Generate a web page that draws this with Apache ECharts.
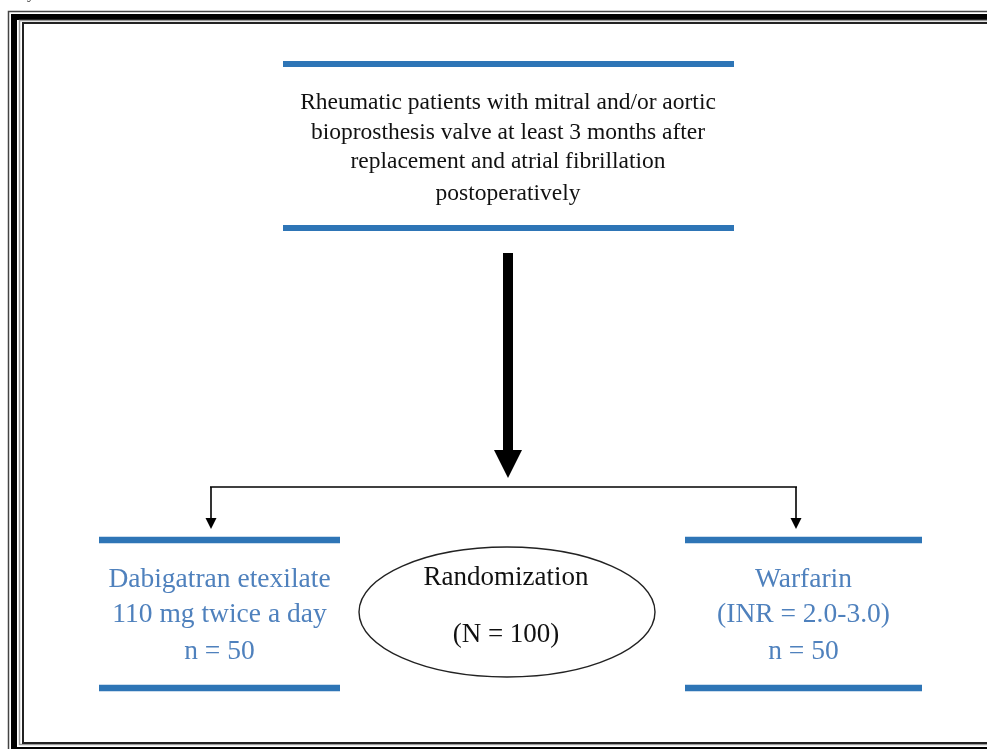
<!DOCTYPE html>
<html>
<head>
<meta charset="utf-8">
<script src="https://cdn.jsdelivr.net/npm/echarts@6/dist/echarts.min.js"></script>
<style>
html,body{margin:0;padding:0;background:#fff;}
#chart{width:987px;height:749px;}
</style>
</head>
<body>
<div id="chart"></div>
<script>
// Flowchart content
const captionFragment = "a day.";
const eligibilityLines = [
  "Rheumatic patients with mitral and/or aortic",
  "bioprosthesis valve at least 3 months after",
  "replacement and atrial fibrillation",
  "postoperatively"
];
const randomizationLines = ["Randomization", "(N = 100)"];
const armLabels = ["Dabigatran etexilate", "Warfarin"];
const armDetails = ["110 mg twice a day", "(INR = 2.0-3.0)"];
const armCounts = [50, 50];

const chart = echarts.init(document.getElementById('chart'), null, {renderer: 'canvas'});

const BLUE_LINE = '#2e75b6';
const BLUE_TEXT = '#4f81bd';
const SERIF = '"Liberation Serif", "DejaVu Serif", serif';

function hbar(x1, x2, y, w, color) {
  return {type: 'line', shape: {x1: x1, y1: y, x2: x2, y2: y}, style: {stroke: color, lineWidth: w}, silent: true};
}
function vline(x, y1, y2, w, color) {
  return {type: 'line', shape: {x1: x, y1: y1, x2: x, y2: y2}, style: {stroke: color, lineWidth: w}, silent: true};
}
function head(x, yTop, yTip, halfW) {
  return {type: 'polygon', shape: {points: [[x - halfW, yTop], [x + halfW, yTop], [x, yTip]]}, style: {fill: '#000'}, silent: true};
}
function txt(str, x, y, size, color) {
  return {type: 'text', x: x, y: y, style: {text: str, align: 'center', verticalAlign: 'middle', fontFamily: SERIF, fontSize: size, fill: color}, silent: true};
}

const els = [];
// frame
els.push({type: 'rect', shape: {x: 8.5, y: 11.5, width: 1100, height: 800}, style: {fill: 'none', stroke: '#444', lineWidth: 1.5}});
els.push({type: 'rect', shape: {x: 14, y: 17, width: 1100, height: 733}, style: {fill: 'none', stroke: '#000', lineWidth: 6}});
els.push({type: 'rect', shape: {x: 19.5, y: 20.5, width: 1100, height: 724}, style: {fill: 'none', stroke: '#9a9a9a', lineWidth: 1.5}});
els.push({type: 'rect', shape: {x: 23, y: 23, width: 1100, height: 720}, style: {fill: 'none', stroke: '#222', lineWidth: 2}});
// caption fragment (cut off at the top edge)
els.push({type: 'text', x: 38, y: -6, style: {text: captionFragment, align: 'right', verticalAlign: 'middle', fontFamily: SERIF, fontSize: 16, fill: '#333'}});

// top box
els.push(hbar(283, 734, 64, 6, BLUE_LINE));
els.push(hbar(283, 734, 228, 6, BLUE_LINE));
const topY = [102.5, 132.5, 162, 193.5];
eligibilityLines.forEach((l, i) => els.push(txt(l, 508, topY[i], 23.5, '#111')));

// big arrow
els.push({type: 'rect', shape: {x: 503, y: 253, width: 10, height: 200}, style: {fill: '#000'}});
els.push(head(508, 450, 478, 14));

// split line
els.push(hbar(210, 797, 487, 1.6, '#000'));
els.push(vline(211, 487, 520, 1.6, '#000'));
els.push(vline(796, 487, 520, 1.6, '#000'));
els.push(head(211, 518, 529, 5.5));
els.push(head(796, 518, 529, 5.5));

// arm boxes
const armX = [[99, 340], [685, 922]];
armX.forEach((r, i) => {
  els.push(hbar(r[0], r[1], 540, 6.5, BLUE_LINE));
  els.push(hbar(r[0], r[1], 688, 6.5, BLUE_LINE));
  const cx = (r[0] + r[1]) / 2;
  els.push(txt(armLabels[i], cx, 580, 27.5, BLUE_TEXT));
  els.push(txt(armDetails[i], cx, 615, 27.5, BLUE_TEXT));
  els.push(txt('n = ' + armCounts[i], cx, 652, 27.5, BLUE_TEXT));
});

// ellipse
els.push({type: 'ellipse', shape: {cx: 507, cy: 612, rx: 148, ry: 65}, style: {fill: 'none', stroke: '#222', lineWidth: 1.4}});
els.push(txt(randomizationLines[0], 506, 578, 27, '#111'));
els.push(txt(randomizationLines[1], 506, 635, 27, '#111'));

chart.setOption({
  backgroundColor: '#fff',
  animation: false,
  graphic: {elements: els}
});
</script>
</body>
</html>
